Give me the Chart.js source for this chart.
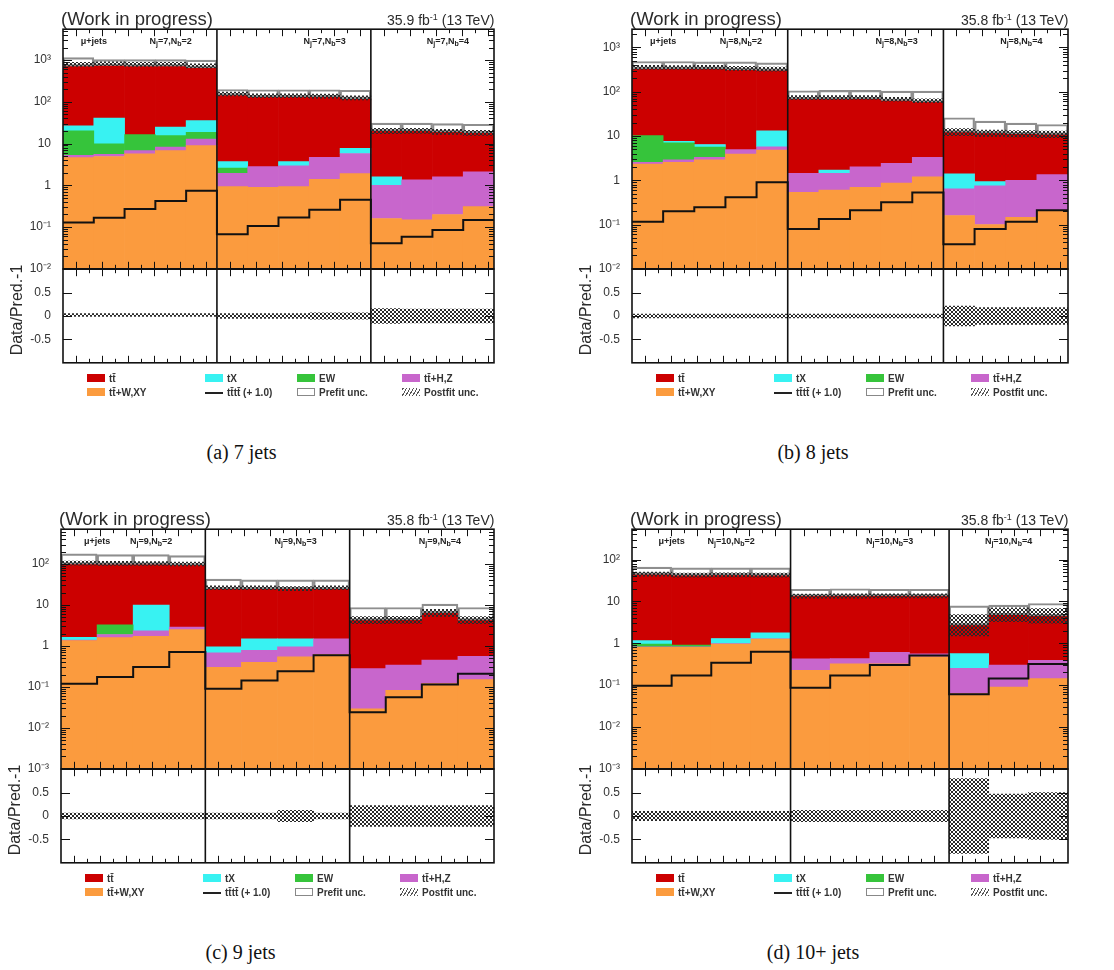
<!DOCTYPE html>
<html>
<head>
<meta charset="utf-8">
<title>Fit regions per jet multiplicity</title>
<script src="https://cdn.jsdelivr.net/npm/chart.js@4.4.1/dist/chart.umd.min.js"></script>
<style>
  body { margin: 0; width: 1114px; height: 970px; background: #fff; position: relative; overflow: hidden;
         font-family: "Liberation Sans", Arial, sans-serif; color: #222; }
  canvas, .t { position: absolute; }
  .t { white-space: nowrap; }
  .head { font-size: 18.5px; line-height: 18px; color: #2b2b2b; }
  .lumi { font-size: 14px; line-height: 14px; color: #2b2b2b; }
  .lumi sup { font-size: 9px; vertical-align: 5px; line-height: 0; }
  .reg { font-size: 9px; font-weight: bold; line-height: 10px; transform: translateX(-50%); color: #222; }
  .reg sub { font-size: 7px; vertical-align: -2px; line-height: 0; }
  .ytit { font-size: 16px; line-height: 16px; transform: translate(-50%, -50%) rotate(-90deg); color: #2b2b2b; }
  .leg { font-size: 10px; font-weight: bold; line-height: 12px; color: #333; }
  .sw { position: absolute; width: 18px; height: 8px; }
  .cap { font-family: "Liberation Serif", "DejaVu Serif", serif; font-size: 20px; line-height: 20px;
         transform: translateX(-50%); color: #111; }
</style>
</head>
<body>
<script>
// ---------- data: (a) 7 jets ----------
const regionsA = [5, 5, 4];
const yRangeA = [0.01, 5500];
const ttWXY_A = [4.6, 4.9, 5.7, 6.8, 8.9, 0.93, 0.9, 0.93, 1.4, 1.9, 0.16, 0.15, 0.2, 0.31];
const ttHZ_A = [0.6, 0.6, 1.1, 1.4, 4.0, 1.0, 1.9, 2.0, 3.3, 3.9, 0.84, 1.2, 1.4, 1.8];
const ew_A = [15, 4.3, 9.6, 7.3, 5.7, 0.66, 0, 0, 0, 0, 0, 0, 0, 0];
const tX_A = [6.6, 31, 0, 9.5, 17, 1.1, 0, 0.75, 0, 1.9, 0.6, 0, 0, 0];
const tt_A = [690, 700, 700, 695, 625, 141, 129, 128, 127, 112, 18.4, 18.7, 17.4, 16];
const prefit_A = [1150, 1030, 1030, 1030, 1000, 198, 195, 195, 195, 190, 31, 31, 30, 29];
const tttt_A = [0.128, 0.168, 0.27, 0.42, 0.74, 0.067, 0.106, 0.17, 0.26, 0.45, 0.041, 0.059, 0.085, 0.148];
const postUnc_A = [0.01, 0.01, 0.01, 0.01, 0.01, 0.05, 0.05, 0.05, 0.07, 0.07, 0.16, 0.15, 0.15, 0.15];

// ---------- data: (b) 8 jets ----------
const regionsB = [5, 5, 4];
const yRangeB = [0.01, 2570];
const ttWXY_B = [2.3, 2.55, 2.9, 3.9, 4.8, 0.53, 0.6, 0.69, 0.86, 1.2, 0.16, 0.1, 0.146, 0.2];
const ttHZ_B = [0.25, 0.35, 0.4, 1.0, 0.9, 0.91, 0.84, 1.31, 1.54, 2.1, 0.48, 0.65, 0.85, 1.14];
const ew_B = [7.6, 4.1, 2.3, 0, 0, 0, 0, 0, 0, 0, 0, 0, 0, 0];
const tX_B = [0, 0.6, 0.8, 0, 7.3, 0, 0.26, 0, 0, 0, 0.75, 0.18, 0, 0];
const tt_B = [320, 322, 324, 309, 290, 67.5, 67, 67, 60.6, 55, 10.8, 10.6, 10.2, 9.5];
const prefit_B = [480, 480, 470, 470, 445, 105, 107, 107, 103, 103, 25.7, 21.6, 19.4, 18.1];
const tttt_B = [0.116, 0.2, 0.245, 0.41, 0.9, 0.079, 0.133, 0.21, 0.32, 0.53, 0.036, 0.079, 0.116, 0.21];
const postUnc_B = [0.04, 0.04, 0.04, 0.04, 0.04, 0.04, 0.04, 0.04, 0.04, 0.04, 0.21, 0.18, 0.18, 0.18];

// ---------- data: (c) 9 jets ----------
const regionsC = [4, 4, 4];
const yRangeC = [0.001, 710];
const ttWXY_C = [1.35, 1.6, 1.73, 2.5, 0.3, 0.4, 0.54, 0.62, 0.029, 0.082, 0.12, 0.15];
const ttHZ_C = [0.05, 0.3, 0.6, 0.4, 0.38, 0.38, 0.41, 0.88, 0.25, 0.26, 0.33, 0.41];
const ew_C = [0, 1.4, 0, 0, 0, 0, 0, 0, 0, 0, 0, 0];
const tX_C = [0.22, 0, 7.6, 0, 0.27, 0.72, 0.55, 0, 0, 0, 0, 0];
const tt_C = [98, 95, 88, 92, 24, 23.5, 23.5, 23.5, 4.0, 4.0, 6.0, 3.7];
const prefit_C = [177, 170, 170, 160, 43, 41, 41, 41, 8.7, 8.7, 10.5, 8.7];
const tttt_C = [0.12, 0.174, 0.305, 0.71, 0.09, 0.144, 0.24, 0.59, 0.024, 0.056, 0.115, 0.21];
const postUnc_C = [0.06, 0.06, 0.06, 0.06, 0.06, 0.06, 0.12, 0.06, 0.22, 0.22, 0.22, 0.22];

// ---------- data: (d) 10+ jets ----------
const regionsD = [4, 4, 3];
const yRangeD = [0.001, 530];
const ttWXY_D = [0.8, 0.8, 0.95, 1.25, 0.225, 0.32, 0.32, 0.47, 0.063, 0.09, 0.143];
const ttHZ_D = [0.02, 0.02, 0.03, 0.03, 0.2, 0.11, 0.29, 0.09, 0.19, 0.21, 0.25];
const ew_D = [0.13, 0.08, 0, 0, 0, 0, 0, 0, 0, 0, 0];
const tX_D = [0.2, 0, 0.32, 0.48, 0, 0, 0, 0, 0.31, 0, 0];
const tt_D = [43, 41, 41, 40, 13, 13, 13, 13, 2.14, 4.5, 4.1];
const prefit_D = [66, 63, 63, 63, 19.5, 20, 19.5, 19.5, 7.8, 8.1, 8.9];
const tttt_D = [0.096, 0.17, 0.34, 0.63, 0.086, 0.17, 0.3, 0.51, 0.06, 0.143, 0.32];
const postUnc_D = [0.1, 0.1, 0.1, 0.1, 0.12, 0.12, 0.12, 0.12, 0.8, 0.47, 0.5];

const ratioTicks = [-0.5, 0, 0.5];

// colours of the processes
const C = { tt: '#cc0000', tx: '#38f2f2', ew: '#36c43b', hz: '#c866cc', wxy: '#fb9b3e' };

const panels = [
  { left: 63, right: 494, top: 29, jets: '7', lumi: '35.9', caption: '(a) 7 jets', regions: regionsA, yr: yRangeA,
    wxy: ttWXY_A, hz: ttHZ_A, ew: ew_A, tx: tX_A, tt: tt_A, prefit: prefit_A, sig: tttt_A, post: postUnc_A },
  { left: 632, right: 1068, top: 29, jets: '8', lumi: '35.8', caption: '(b) 8 jets', regions: regionsB, yr: yRangeB,
    wxy: ttWXY_B, hz: ttHZ_B, ew: ew_B, tx: tX_B, tt: tt_B, prefit: prefit_B, sig: tttt_B, post: postUnc_B },
  { left: 61, right: 494, top: 529, jets: '9', lumi: '35.8', caption: '(c) 9 jets', regions: regionsC, yr: yRangeC,
    wxy: ttWXY_C, hz: ttHZ_C, ew: ew_C, tx: tX_C, tt: tt_C, prefit: prefit_C, sig: tttt_C, post: postUnc_C },
  { left: 632, right: 1068, top: 529, jets: '10', lumi: '35.8', caption: '(d) 10+ jets', regions: regionsD, yr: yRangeD,
    wxy: ttWXY_D, hz: ttHZ_D, ew: ew_D, tx: tX_D, tt: tt_D, prefit: prefit_D, sig: tttt_D, post: postUnc_D }
];

// pad geometry
const UP_H = 240, RAT_H = 94, AXW = 50;

Chart.defaults.font.family = '"Liberation Sans", Arial, sans-serif';

// hatch used for the postfit band
function makeHatch() {
  const c = document.createElement('canvas');
  c.width = 4; c.height = 4;
  const g = c.getContext('2d');
  g.fillStyle = '#2a2a2a';
  [[0, 0], [1, 1], [2, 2], [3, 3], [0, 3], [1, 2], [2, 1], [3, 0]].forEach(([x, y]) => g.fillRect(x, y, 1, 1));
  return g.createPattern(c, 'repeat');
}
const hatch = makeHatch();

const SUP = { '-': '\u207B', '0': '\u2070', '1': '\u00B9', '2': '\u00B2', '3': '\u00B3' };
function isPow10(v) {
  const l = Math.log10(v);
  return Math.abs(l - Math.round(l)) < 1e-6;
}
function powLabel(v) {
  if (!isPow10(v)) return '';
  const e = Math.round(Math.log10(v));
  if (e === 0) return '1';
  if (e === 1) return '10';
  return '10' + String(e).split('').map(ch => SUP[ch]).join('');
}
function logTicks(min, max) {
  const out = [];
  for (let e = Math.floor(Math.log10(min)); e <= Math.ceil(Math.log10(max)); e++) {
    for (let m = 1; m < 10; m++) {
      const v = m * Math.pow(10, e);
      if (v >= min * 0.9999 && v <= max) out.push({ value: v });
    }
  }
  return out;
}

function regionEdges(regions) {
  const e = [0];
  regions.forEach(n => e.push(e[e.length - 1] + n));
  return e;
}

// ROOT-like frame: inward ticks, region dividers, box
const rootFrame = {
  id: 'rootFrame',
  defaults: { edges: [], log: false },
  afterDatasetsDraw(chart, args, opts) {
    const { ctx, chartArea: a } = chart;
    const x = chart.scales.x, y = chart.scales.y;
    const seg = (x0, y0, x1, y1) => { ctx.beginPath(); ctx.moveTo(x0, y0); ctx.lineTo(x1, y1); ctx.stroke(); };
    ctx.save();
    ctx.strokeStyle = '#111';
    ctx.lineWidth = 1;
    y.ticks.forEach(t => {
      const py = Math.round(y.getPixelForValue(t.value)) + 0.5;
      const len = (!opts.log || isPow10(t.value)) ? 9 : 5;
      seg(a.left, py, a.left + len, py);
      seg(a.right, py, a.right - len, py);
    });
    const edges = opts.edges;
    for (let r = 0; r < edges.length - 1; r++) {
      const x0 = x.getPixelForValue(edges[r]), x1 = x.getPixelForValue(edges[r + 1]);
      let k = 1;
      for (let px = x0 + 13; px < x1 - 3; px += 13, k++) {
        const len = k % 2 ? 7 : 4;
        const qx = Math.round(px) + 0.5;
        seg(qx, a.top, qx, a.top + len);
        seg(qx, a.bottom, qx, a.bottom - len);
      }
    }
    ctx.lineWidth = 1.6;
    edges.slice(1, -1).forEach(e => {
      const px = x.getPixelForValue(e);
      seg(px, a.top, px, a.bottom);
    });
    ctx.strokeRect(a.left, a.top, a.right - a.left, a.bottom - a.top);
    ctx.restore();
  }
};
Chart.register(rootFrame);

function makeCanvas(x, y, w, h) {
  const c = document.createElement('canvas');
  c.width = w; c.height = h;
  c.style.left = x + 'px'; c.style.top = y + 'px';
  c.style.width = w + 'px'; c.style.height = h + 'px';
  document.body.appendChild(c);
  return c;
}

// build a chart once to measure the space its axis takes, then rebuild it so that
// the plotting area lands exactly on the wanted frame
function placeChart(makeConfig, fl, ft, fw, fh) {
  let c = makeCanvas(0, 0, fw + 120, fh + 60);
  let ch = new Chart(c, makeConfig());
  const a = ch.chartArea;
  const inL = a.left, inT = a.top, inR = c.width - a.right, inB = c.height - a.bottom;
  ch.destroy();
  c.remove();
  c = makeCanvas(fl - inL, ft - inT, fw + inL + inR, fh + inT + inB);
  ch = new Chart(c, makeConfig());
  ch.$offX = fl - inL;
  return ch;
}

function addText(cls, html, x, y) {
  const d = document.createElement('div');
  d.className = 't ' + cls;
  d.innerHTML = html;
  d.style.left = x + 'px';
  d.style.top = y + 'px';
  document.body.appendChild(d);
  return d;
}

const binBars = vals => vals.map((v, i) => ({ x: i + 0.5, y: v }));
function stepPoints(vals) {
  const pts = vals.map((v, i) => ({ x: i, y: v }));
  pts.push({ x: vals.length, y: vals[vals.length - 1] });
  return pts;
}

const barCommon = { type: 'bar', grouped: false, barPercentage: 1, categoryPercentage: 1, borderWidth: 0 };

function yAxisCommon() {
  return {
    position: 'left',
    grid: { display: false, drawTicks: false },
    border: { display: false },
    afterFit: s => { s.width = AXW; },
    ticks: { autoSkip: false, padding: 12, color: '#333', font: { size: 12 } }
  };
}

function baseOptions(n, edges, log, yScale) {
  return {
    responsive: false, maintainAspectRatio: false, animation: false, events: [],
    layout: { padding: { top: 2, bottom: 2, left: 0, right: 2 } },
    plugins: { legend: { display: false }, tooltip: { enabled: false }, rootFrame: { edges, log } },
    scales: {
      x: { type: 'linear', min: 0, max: n, offset: false, display: false, ticks: { stepSize: 1 } },
      y: yScale
    }
  };
}

function drawPanel(p) {
  const n = p.tt.length;
  const fw = p.right - p.left;
  const edges = regionEdges(p.regions);
  const total = p.tt.map((_, i) => p.wxy[i] + p.hz[i] + p.ew[i] + p.tx[i] + p.tt[i]);

  // upper pad: stacked yields
  const upConfig = () => {
    const yScale = Object.assign(yAxisCommon(), {
      type: 'logarithmic', min: p.yr[0], max: p.yr[1], stacked: true,
      afterBuildTicks: s => { s.ticks = logTicks(p.yr[0], p.yr[1]); }
    });
    yScale.ticks.callback = v => powLabel(v);
    return {
      data: {
        datasets: [
          { type: 'line', data: stepPoints(p.sig), stepped: true, borderColor: '#111', borderWidth: 2,
            pointRadius: 0, fill: false, stack: 'sig' },
          { ...barCommon, stack: 'post', minBarLength: 4, backgroundColor: hatch,
            data: total.map((t, i) => ({ x: i + 0.5, y: [t / (1 + p.post[i]), t * (1 + p.post[i])] })) },
          { ...barCommon, stack: 'pre', backgroundColor: 'rgba(255,255,255,0)', borderColor: '#8e8e8e',
            borderWidth: 1.5, borderSkipped: false,
            data: total.map((t, i) => ({ x: i + 0.5, y: [t, p.prefit[i]] })) },
          { ...barCommon, stack: 'bkg', backgroundColor: C.wxy, data: binBars(p.wxy) },
          { ...barCommon, stack: 'bkg', backgroundColor: C.hz, data: binBars(p.hz) },
          { ...barCommon, stack: 'bkg', backgroundColor: C.ew, data: binBars(p.ew) },
          { ...barCommon, stack: 'bkg', backgroundColor: C.tx, data: binBars(p.tx) },
          { ...barCommon, stack: 'bkg', backgroundColor: C.tt, data: binBars(p.tt) }
        ]
      },
      options: baseOptions(n, edges, true, yScale)
    };
  };
  const up = placeChart(upConfig, p.left, p.top, fw, UP_H);

  // ratio pad: postfit band around zero
  const ratConfig = () => {
    const yScale = Object.assign(yAxisCommon(), {
      type: 'linear', min: -1, max: 1,
      afterBuildTicks: s => { s.ticks = ratioTicks.map(v => ({ value: v })); }
    });
    yScale.ticks.callback = v => String(v);
    return {
      data: {
        datasets: [
          { ...barCommon, stack: 'post', minBarLength: 3, backgroundColor: hatch,
            data: p.post.map((u, i) => ({ x: i + 0.5, y: [-u, u] })) }
        ]
      },
      options: baseOptions(n, edges, false, yScale)
    };
  };
  placeChart(ratConfig, p.left, p.top + UP_H, fw, RAT_H);

  // texts around the pads
  const xs = up.scales.x;
  const px = v => up.$offX + xs.getPixelForValue(v);
  addText('head', '(Work in progress)', p.left - 2, p.top - 19);
  const lumi = addText('lumi', p.lumi + ' fb<sup>-1</sup> (13 TeV)', 0, p.top - 16);
  lumi.style.left = (p.right - lumi.offsetWidth) + 'px';
  addText('reg', '\u03BC+jets', px(1.0), p.top + 7);
  ['2', '3', '4'].forEach((nb, r) => {
    addText('reg', 'N<sub>j</sub>=' + p.jets + ',N<sub>b</sub>=' + nb, px(edges[r + 1] - 1.5), p.top + 7);
  });
  addText('ytit', 'Data/Pred.-1', p.left - 46, p.top + 281);

  const legRows = [
    [{ k: 'box', c: C.tt, s: 'tt\u0304' }, { k: 'box', c: C.tx, s: 'tX' }, { k: 'box', c: C.ew, s: 'EW' }, { k: 'box', c: C.hz, s: 'tt\u0304+H,Z' }],
    [{ k: 'box', c: C.wxy, s: 'tt\u0304+W,XY' }, { k: 'line', s: 'tt\u0304tt\u0304 (+ 1.0)' }, { k: 'open', s: 'Prefit unc.' }, { k: 'hatch', s: 'Postfit unc.' }]
  ];
  const colX = [24, 142, 234, 339];
  const legTop = p.top + UP_H + RAT_H;
  legRows.forEach((row, r) => {
    row.forEach((it, c) => {
      const x0 = p.left + colX[c], y0 = legTop + 10 + r * 14;
      const sw = document.createElement('div');
      sw.className = 'sw';
      sw.style.left = x0 + 'px'; sw.style.top = (y0 + 1) + 'px';
      if (it.k === 'box') sw.style.background = it.c;
      if (it.k === 'open') { sw.style.border = '1px solid #888'; sw.style.width = '16px'; sw.style.height = '6px'; }
      if (it.k === 'line') { sw.style.height = '2px'; sw.style.top = (y0 + 5) + 'px'; sw.style.background = '#222'; }
      if (it.k === 'hatch') sw.style.background = 'repeating-linear-gradient(-60deg, #555 0 1px, transparent 1px 3px)';
      document.body.appendChild(sw);
      addText('leg', it.s, x0 + 22, y0);
    });
  });

  addText('cap', p.caption, (p.left + p.right) / 2 - 37, p.top + 413);
}

panels.forEach(drawPanel);
</script>
</body>
</html>
